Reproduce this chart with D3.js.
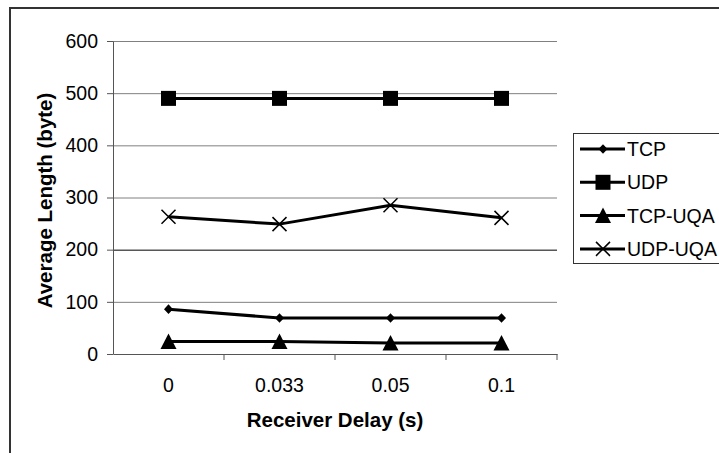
<!DOCTYPE html>
<html>
<head>
<meta charset="utf-8">
<script src="https://cdn.jsdelivr.net/npm/d3@7"></script>
<style>
  body { margin: 0; background: #fff; }
  text { font-family: "Liberation Sans", Arial, sans-serif; fill: #000; }
  .title { font-weight: bold; font-size: 20.5px; }
  .tick text { font-size: 19.5px; }
</style>
</head>
<body>
<svg id="chart" width="719" height="453"></svg>
<script>
const delays = ['0', '0.033', '0.05', '0.1'];
const yTicks = [0, 100, 200, 300, 400, 500, 600];
const seriesNames = ['TCP', 'UDP', 'TCP-UQA', 'UDP-UQA'];
const tcp = [86, 69, 69, 69];
const udp = [490, 490, 490, 490];
const tcpUqa = [24, 24, 21, 21];
const udpUqa = [263, 249, 285, 261];

const seriesValues = [tcp, udp, tcpUqa, udpUqa];
const markerKinds = ['diamond', 'square', 'triangle', 'cross'];

const plot = { left: 113, right: 557, top: 41, bottom: 354 };

const svg = d3.select('#chart');

// chart area frame (runs off the right and bottom of the picture)
svg.append('rect')
  .attr('x', 10)
  .attr('y', 8)
  .attr('width', 730)
  .attr('height', 470)
  .attr('fill', '#fff')
  .attr('stroke', '#333')
  .attr('stroke-width', 2);

const xScale = d3.scaleBand()
  .domain(delays)
  .range([plot.left, plot.right])
  .padding(0);

const yScale = d3.scaleLinear()
  .domain([0, 600])
  .range([plot.bottom, plot.top]);

const xPos = (i) => xScale(delays[i]) + xScale.bandwidth() / 2;

// gridlines
svg.append('g')
  .attr('transform', `translate(${plot.left}, 0)`)
  .call(d3.axisLeft(yScale).tickValues(yTicks.slice(1)).tickSize(-(plot.right - plot.left)).tickFormat(''))
  .call((g) => g.select('.domain').remove())
  .call((g) => g.selectAll('.tick line').attr('stroke', (d) => (d === 200 ? '#000' : '#808080')).attr('stroke-width', 1));

// y axis
svg.append('g')
  .attr('transform', `translate(${plot.left}, 0)`)
  .call(d3.axisLeft(yScale).tickValues(yTicks).tickSize(6).tickSizeOuter(0).tickPadding(9))
  .call((g) => g.select('.domain').attr('stroke', '#555'))
  .call((g) => g.selectAll('.tick line').attr('stroke', '#555'));

// x axis
const xAxis = svg.append('g')
  .attr('transform', `translate(0, ${plot.bottom})`)
  .call(d3.axisBottom(xScale).tickSize(0).tickSizeOuter(0).tickPadding(24))
  .call((g) => g.select('.domain').attr('stroke', '#555'));

xAxis.selectAll('.edge')
  .data(delays.map((d) => xScale(d) + xScale.bandwidth()))
  .enter()
  .append('line')
  .attr('class', 'edge')
  .attr('x1', (d) => d)
  .attr('x2', (d) => d)
  .attr('y1', 0)
  .attr('y2', 6)
  .attr('stroke', '#555');

// axis titles
svg.append('text')
  .attr('class', 'title')
  .attr('text-anchor', 'middle')
  .attr('transform', `translate(52, ${(plot.top + plot.bottom) / 2 + 3}) rotate(-90)`)
  .text('Average Length (byte)');

svg.append('text')
  .attr('class', 'title')
  .attr('text-anchor', 'middle')
  .attr('x', (plot.left + plot.right) / 2)
  .attr('y', 427)
  .text('Receiver Delay (s)');

const markerPath = (kind) => {
  if (kind === 'diamond') return 'M0,-4.8L4.5,0L0,4.8L-4.5,0Z';
  if (kind === 'square') return 'M-7.5,-7.5H7.5V7.5H-7.5Z';
  if (kind === 'triangle') return 'M0,-8L8,7.5H-8Z';
  return 'M-7,-7L7,7M-7,7L7,-7';
};

const drawMarker = (sel, kind) => {
  sel.append('path')
    .attr('d', markerPath(kind))
    .attr('fill', kind === 'cross' ? 'none' : '#000')
    .attr('stroke', '#000')
    .attr('stroke-width', kind === 'cross' ? 1.5 : 0);
};

const line = d3.line()
  .x((d, i) => xPos(i))
  .y((d) => yScale(d));

const series = svg.append('g')
  .selectAll('g')
  .data(seriesValues)
  .enter()
  .append('g');

series.append('path')
  .attr('d', (d) => line(d))
  .attr('fill', 'none')
  .attr('stroke', '#000')
  .attr('stroke-width', 3);

series.each(function (values, s) {
  d3.select(this).selectAll('.pt')
    .data(values)
    .enter()
    .append('g')
    .attr('class', 'pt')
    .attr('transform', (d, i) => `translate(${xPos(i)}, ${yScale(d)})`)
    .each(function () { drawMarker(d3.select(this), markerKinds[s]); });
});

// legend
const legend = svg.append('g');

legend.append('rect')
  .attr('x', 573.5)
  .attr('y', 133.5)
  .attr('width', 160)
  .attr('height', 130)
  .attr('fill', '#fff')
  .attr('stroke', '#333')
  .attr('stroke-width', 1);

const items = legend.selectAll('.item')
  .data(seriesNames)
  .enter()
  .append('g')
  .attr('class', 'item')
  .attr('transform', (d, i) => `translate(603, ${149 + i * 33.3})`);

items.append('line')
  .attr('x1', -23)
  .attr('x2', 22)
  .attr('stroke', '#000')
  .attr('stroke-width', 3);

items.each(function (d, i) { drawMarker(d3.select(this), markerKinds[i]); });

items.append('text')
  .attr('x', 24)
  .attr('y', 7)
  .style('font-size', '19.5px')
  .text((d) => d);
</script>
</body>
</html>
